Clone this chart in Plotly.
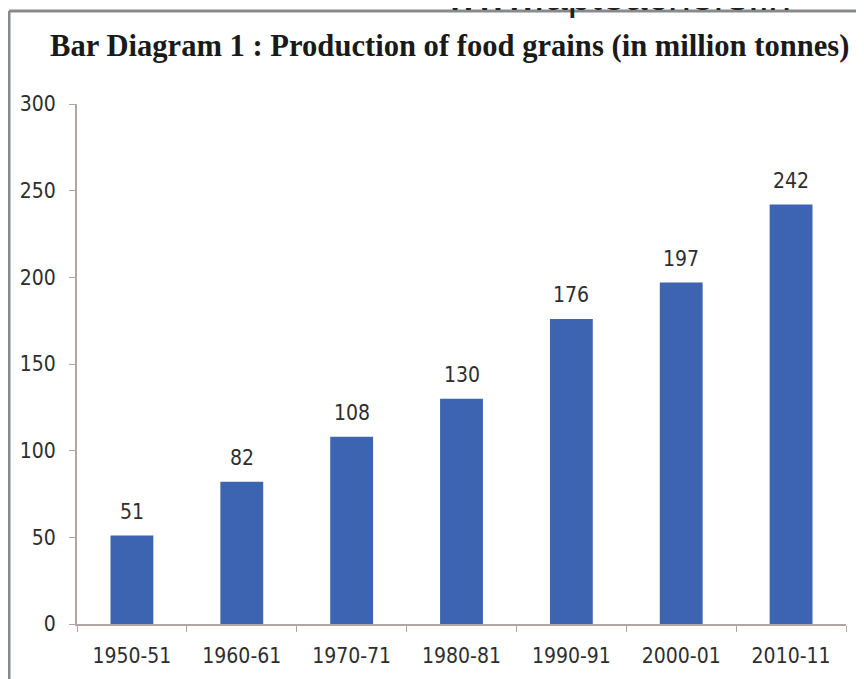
import plotly.graph_objects as go

categories = ["1950-51", "1960-61", "1970-71", "1980-81", "1990-91", "2000-01", "2010-11"]
production = [51, 82, 108, 130, 176, 197, 242]
y_ticks = [0, 50, 100, 150, 200, 250, 300]

W, H = 856, 671
LABEL_FONT = "DejaVu Sans Condensed, Liberation Sans, sans-serif"

fig = go.Figure()
fig.add_trace(go.Bar(
    x=categories, y=production,
    marker=dict(color="#3C64B0", line=dict(width=0)),
    width=0.39,
    hoverinfo="x+y",
))

for c, v in zip(categories, production):
    fig.add_annotation(x=c, y=v, text=str(v), showarrow=False,
                       yanchor="bottom", yshift=10,
                       font=dict(family=LABEL_FONT, size=21, color="#2e2e2e"))

# title
fig.add_annotation(xref="paper", yref="paper", x=0.5, y=1, xanchor="center", yanchor="bottom",
                   text="<b>Bar Diagram 1 : Production of food grains (in million tonnes)</b>",
                   showarrow=False, yshift=38.5, xshift=-12,
                   font=dict(family="Liberation Serif", size=30.6, color="#1a1a1a"))
# watermark url at top (partially cropped, as in the scan)
fig.add_annotation(xref="paper", yref="paper", x=0.5, y=1, xanchor="center", yanchor="bottom",
                   text="www.apteachers.in", showarrow=False, yshift=82.5, xshift=156.5,
                   font=dict(family="Liberation Sans", size=41, color="#222222"))

# scanned page frame
fig.add_shape(type="line", xref="paper", yref="paper", x0=-0.0884, x1=1.05, y0=1.1788, y1=1.1788,
              line=dict(color="#858a8c", width=3))
fig.add_shape(type="line", xref="paper", yref="paper", x0=-0.0884, x1=-0.0884, y0=1.1788, y1=-0.2,
              line=dict(color="#858a8c", width=3))

fig.update_layout(
    width=W, height=H,
    margin=dict(l=69, r=18, t=96, b=55, autoexpand=False),
    paper_bgcolor="white", plot_bgcolor="white",
    showlegend=False,
    bargap=0.6,
    xaxis=dict(
        type="category", automargin=False,
        showline=True, linecolor="#b0a6a6", linewidth=2,
        ticks="outside", ticklen=6, tickcolor="#b0a6a6", tickson="boundaries",
        tickfont=dict(family=LABEL_FONT, size=21, color="#2e2e2e"),
        ticklabelstandoff=12,
        showgrid=False,
    ),
    yaxis=dict(
        range=[0, 300], tickvals=y_ticks, automargin=False,
        showline=True, linecolor="#b0a6a6", linewidth=2,
        ticks="outside", ticklen=6, tickcolor="#b0a6a6",
        tickfont=dict(family=LABEL_FONT, size=21, color="#2e2e2e"),
        ticklabelstandoff=9,
        showgrid=False, zeroline=False,
    ),
)

fig.write_html("out.html")
